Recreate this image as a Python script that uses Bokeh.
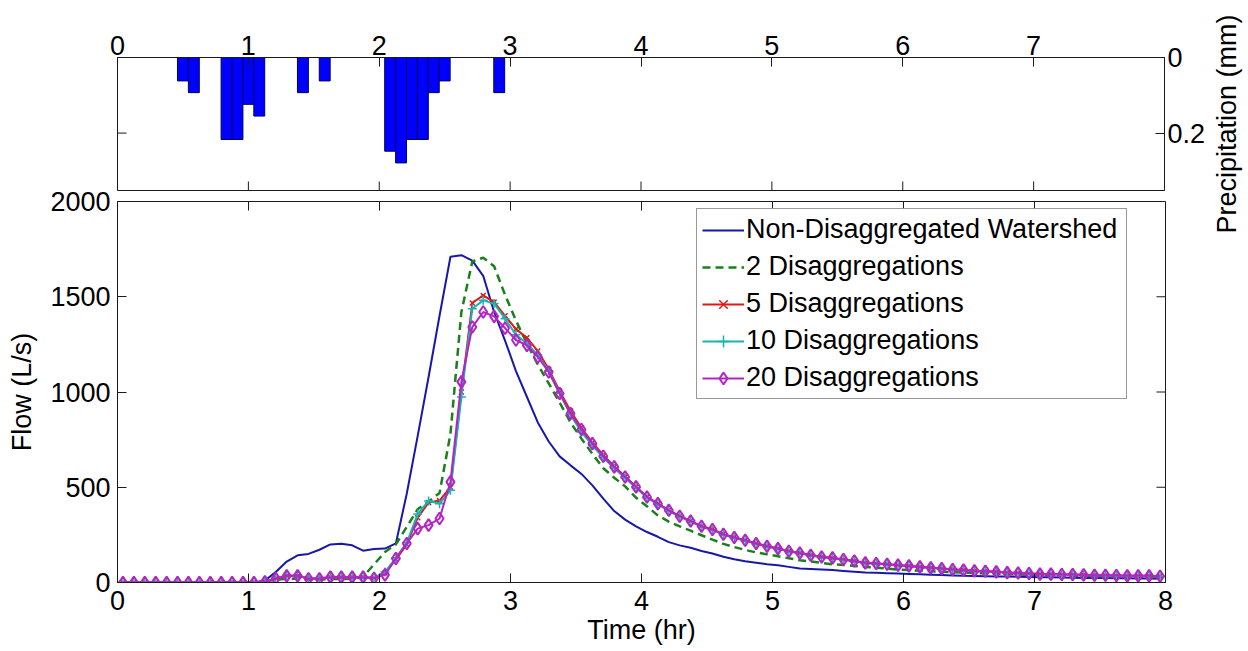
import numpy as np
from bokeh.plotting import figure
from bokeh.models import (Range1d, FixedTicker, Legend, LegendItem, Title)
from bokeh.layouts import column, row
from bokeh.embed import file_html
from bokeh.resources import INLINE

# ---------------- data ----------------
TIME_HR = np.arange(2.5, 480, 5) / 60.0   # 5-minute model steps (mid-step times)

NON_DISAGG = [0]*13 + [10, 55, 110, 143, 150, 172, 200, 203, 195, 167, 176, 178] + \
    [205, 467, 770, 1080, 1400, 1710, 1718, 1690, 1610, 1420, 1270, 1110, 975, 840, 740,
     662, 615, 570, 510, 440, 375, 330, 295, 265, 240, 212, 195, 182, 165] + \
    [152, 135, 122, 112, 104, 96, 90, 82, 74, 71, 68, 65, 61, 57, 53, 51, 49, 47, 45, 43,
     41, 39, 37, 35, 34, 33, 32, 31, 30, 29, 28, 27, 26, 25, 24, 23, 23, 22, 22, 21, 21, 20]

DISAGG_2 = [0]*13 + [5, 15, 20, 20, 15, 15, 18, 18, 20, 30, 95, 160] + \
    [200, 292, 385, 425, 470, 780, 1420, 1685, 1705, 1660, 1510, 1375, 1255, 1145, 1045,
     945, 840, 755, 675, 600, 550, 505, 445, 400, 352, 320, 295, 272, 248] + \
    [225, 203, 186, 171, 158, 148, 138, 127, 117, 110, 103, 96, 92, 87, 82, 78, 73, 68, 65, 62,
     59, 56, 54, 52, 50, 48, 46, 44, 42, 41, 40, 38, 37, 36, 35, 34, 33, 32, 31, 30, 30, 29]

DISAGG_5 = [0]*13 + [3, 22, 35, 35, 22, 22, 28, 28, 28, 28, 25, 50] + \
    [120, 200, 340, 420, 430, 500, 1000, 1467, 1507, 1472, 1400, 1330, 1285, 1215, 1120,
     1005, 900, 812, 735, 668, 610, 556, 503, 450, 414, 380, 348, 323, 295] + \
    [279, 254, 237, 222, 206, 191, 178, 165, 155, 144, 135, 129, 121, 113, 104, 100, 96, 91, 87, 82,
     77, 73, 69, 65, 62, 59, 56, 53, 50, 47, 45, 44, 42, 42, 40, 39, 38, 37, 36, 35, 35, 33]

DISAGG_10 = [0]*13 + [3, 22, 35, 35, 22, 22, 28, 28, 28, 28, 25, 55] + \
    [130, 210, 360, 428, 414, 484, 974, 1437, 1481, 1464, 1385, 1300, 1255, 1195, 1110,
     995, 880, 790, 720, 655, 600, 548, 497, 445, 410, 375, 345, 320, 292] + \
    [276, 251, 234, 220, 203, 189, 176, 163, 154, 142, 133, 128, 120, 112, 102, 99, 95, 90, 86, 81,
     76, 72, 67, 64, 60, 58, 55, 51, 49, 46, 44, 43, 41, 41, 39, 38, 37, 36, 35, 34, 34, 32]

DISAGG_20 = [0]*13 + [3, 21, 35, 35, 20, 20, 28, 28, 28, 28, 22, 40] + \
    [126, 205, 283, 301, 336, 528, 1053, 1341, 1420, 1397, 1335, 1273, 1245, 1184, 1105,
     992, 887, 803, 729, 663, 607, 554, 502, 449, 414, 379, 348, 323, 295] + \
    [278, 253, 236, 222, 205, 190, 178, 164, 155, 143, 134, 129, 121, 113, 103, 100, 96, 91, 87, 82,
     77, 73, 68, 65, 61, 59, 56, 52, 50, 47, 44, 44, 42, 42, 40, 38, 38, 37, 35, 35, 35, 33]

for s in (NON_DISAGG, DISAGG_2, DISAGG_5, DISAGG_10, DISAGG_20):
    assert len(s) == len(TIME_HR)

RAIN_TIME_HR = [0.5, 0.5833, 0.8333, 0.9167, 1.0, 1.0833, 1.4167, 1.5833,
                2.0833, 2.1667, 2.25, 2.3333, 2.4167, 2.5, 2.9167]
RAIN_MM = [0.062, 0.093, 0.217, 0.217, 0.124, 0.155, 0.093, 0.062,
           0.248, 0.279, 0.217, 0.217, 0.093, 0.062, 0.093]
RAIN_STEP_HR = 5 / 60.0

X_TICKS_TOP = [0, 1, 2, 3, 4, 5, 6, 7]
X_TICKS = [0, 1, 2, 3, 4, 5, 6, 7, 8]
Y_TICKS_FLOW = [0, 500, 1000, 1500, 2000]
Y_TICKS_RAIN = [0, 0.2]
X_MAX = 8
FLOW_MAX = 2000
RAIN_AXIS_MAX = 0.352

FONT = "Liberation Sans"
FS = "27px"
AX = "#1a1a1a"
TICK_LEN = 9


def style_axis(ax, ticks):
    ax.ticker = FixedTicker(ticks=ticks)
    ax.major_tick_in = TICK_LEN
    ax.major_tick_out = 0
    ax.minor_tick_in = 0
    ax.minor_tick_out = 0
    ax.axis_line_color = AX
    ax.major_tick_line_color = AX
    ax.axis_line_width = 1
    ax.major_label_text_font = FONT
    ax.major_label_text_color = "black"
    ax.major_label_text_font_size = FS
    ax.axis_label_text_font = FONT
    ax.axis_label_text_font_style = "normal"
    ax.axis_label_text_color = "black"
    ax.axis_label_text_font_size = FS


def mirror_ticks(p, xs, ys, vertical):
    # inward tick marks on the opposite box edges (half of each dash is clipped by the frame)
    p.scatter(xs, ys, marker="dash", size=2 * TICK_LEN, angle=(np.pi / 2 if vertical else 0),
              line_color=AX, line_width=1)


# ---------------- precipitation (top) ----------------
top = figure(width=1209, height=250, x_range=Range1d(0, X_MAX), y_range=Range1d(RAIN_AXIS_MAX, 0),
             x_axis_location="above", y_axis_location="right",
             output_backend="svg", toolbar_location=None,
             min_border_left=117, min_border_right=45, min_border_top=57, min_border_bottom=60)
top.grid.visible = False
top.outline_line_color = AX
top.border_fill_alpha = 0
top.vbar(x=RAIN_TIME_HR, width=RAIN_STEP_HR, top=RAIN_MM, bottom=0,
         fill_color="#0000ff", line_color="#000060", line_width=1)

style_axis(top.xaxis[0], X_TICKS_TOP)
top.xaxis[0].major_label_standoff = 3
ry = top.yaxis[0]
style_axis(ry, Y_TICKS_RAIN)
ry.major_label_standoff = 3
ry.major_label_overrides = {0: "0", 0.2: "0.2"}

mirror_ticks(top, X_TICKS[1:-1], [RAIN_AXIS_MAX] * len(X_TICKS[1:-1]), vertical=True)
mirror_ticks(top, [0] * len(Y_TICKS_RAIN), Y_TICKS_RAIN, vertical=False)

# side strip carrying the rotated precipitation axis title (reads bottom-to-top)
side = figure(width=39, height=250, x_axis_location=None, y_axis_location=None,
              output_backend="svg", toolbar_location=None, title=None,
              min_border_left=0, min_border_right=0, min_border_top=4, min_border_bottom=10)
side.grid.visible = False
side.outline_line_color = None
side.background_fill_alpha = 0
side.border_fill_alpha = 0
side.add_layout(Title(text="Precipitation (mm)", align="center", text_font=FONT,
                      text_font_size=FS, text_font_style="normal", text_color="black",
                      standoff=0, offset=0), "left")

# ---------------- flow (main) ----------------
main = figure(width=1248, height=467, x_range=Range1d(0, X_MAX), y_range=Range1d(0, FLOW_MAX),
              output_backend="svg", toolbar_location=None,
              min_border_left=117, min_border_right=83, min_border_top=17, min_border_bottom=69,
              margin=(-66, 0, 0, 0))
main.grid.visible = False
main.outline_line_color = AX
main.border_fill_alpha = 0

style_axis(main.xaxis[0], X_TICKS)
main.xaxis[0].axis_label = "Time (hr)"
main.xaxis[0].major_label_standoff = 8
main.xaxis[0].axis_label_standoff = 2
style_axis(main.yaxis[0], Y_TICKS_FLOW)
main.yaxis[0].axis_label = "Flow (L/s)"
main.yaxis[0].major_label_standoff = 7
main.yaxis[0].axis_label_standoff = 10

mirror_ticks(main, X_TICKS[1:-1], [FLOW_MAX] * len(X_TICKS[1:-1]), vertical=True)
mirror_ticks(main, [X_MAX] * len(Y_TICKS_FLOW[1:-1]), Y_TICKS_FLOW[1:-1], vertical=False)

c_blue, c_green, c_red, c_cyan, c_mag = "#1818a8", "#1a801a", "#e01818", "#18b4b4", "#b424c4"

r1 = main.line(TIME_HR, NON_DISAGG, line_color=c_blue, line_width=2)
r2 = main.line(TIME_HR, DISAGG_2, line_color=c_green, line_width=2.5, line_dash="8 5")
r3 = main.line(TIME_HR, DISAGG_5, line_color=c_red, line_width=2)
r3m = main.scatter(TIME_HR, DISAGG_5, marker="x", size=7, line_color=c_red, line_width=1.5)
r4 = main.line(TIME_HR, DISAGG_10, line_color=c_cyan, line_width=2)
r4m = main.scatter(TIME_HR, DISAGG_10, marker="cross", size=9, line_color=c_cyan, line_width=1.5)
r5 = main.line(TIME_HR, DISAGG_20, line_color=c_mag, line_width=2)
r5m = main.scatter(TIME_HR, DISAGG_20, marker="diamond", size=12, line_color=c_mag,
                   fill_color=None, line_width=2)

legend = Legend(items=[
    LegendItem(label="Non-Disaggregated Watershed", renderers=[r1]),
    LegendItem(label="2 Disaggregations", renderers=[r2]),
    LegendItem(label="5 Disaggregations", renderers=[r3, r3m]),
    LegendItem(label="10 Disaggregations", renderers=[r4, r4m]),
    LegendItem(label="20 Disaggregations", renderers=[r5, r5m]),
], location=(579, 183), margin=0, padding=5, spacing=6,
    glyph_width=42, glyph_height=30, label_height=30, label_width=375, label_standoff=2,
    label_text_font=FONT, label_text_font_size=FS, label_text_color="black",
    border_line_color="#333333", border_line_width=1, background_fill_color="white")
main.add_layout(legend, "center")

layout = column(row(top, side, spacing=0), main, spacing=0)
open("out.html", "w").write(file_html(layout, INLINE))
